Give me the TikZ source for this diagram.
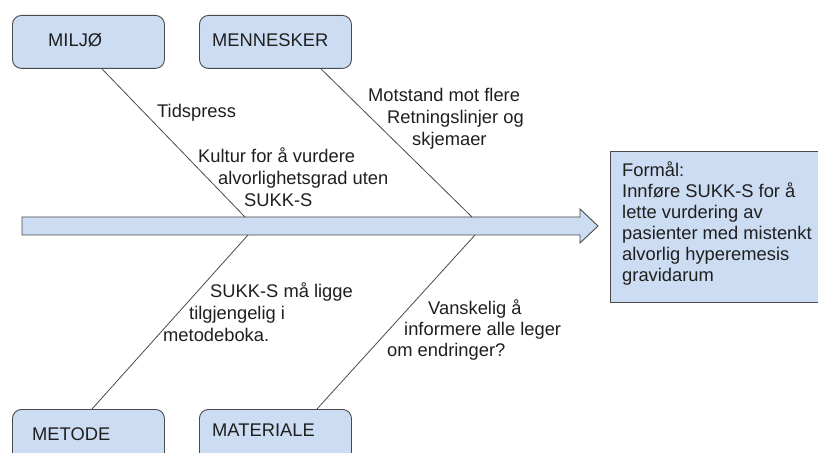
\documentclass[tikz,border=0pt]{standalone}
\usepackage{fontspec}
\setmainfont{Liberation Sans}
\usetikzlibrary{calc}
\definecolor{boxblue}{HTML}{CCDCF2}
\definecolor{edgegray}{HTML}{4A4A4A}
\begin{document}
\begin{tikzpicture}[x=1bp,y=-1bp,
  catbox/.style={draw=edgegray, line width=0.9bp, fill=boxblue, rounded corners=9bp, minimum width=152bp, minimum height=53bp, inner sep=0, anchor=north west},
  goalbox/.style={draw=edgegray, line width=0.9bp, fill=boxblue, minimum width=230bp, minimum height=151bp, inner sep=0, anchor=north west},
  txt/.style={anchor=base west, inner sep=0, font=\fontsize{18.4}{21.5}\selectfont, text=black!88},
  bone/.style={draw=edgegray, line width=0.8bp}]
\useasboundingbox (0,0) rectangle (818,453);
\clip (0,0) rectangle (818,453);
\fill[white] (0,0) rectangle (818,453);
% main arrow
\draw[draw=edgegray, line width=0.9bp, fill=boxblue] (22,217) -- (580,217) -- (580,209) -- (598,226) -- (580,243) -- (580,235) -- (22,235) -- cycle;
\coordinate (j1) at (245,217);
\coordinate (j2) at (472,217);
\coordinate (j3) at (248,235);
\coordinate (j4) at (475,235);
% category boxes
\node[catbox] (miljo) at (12,15) {};
\node[catbox] (menn) at (199,15) {};
\node[catbox, minimum height=70bp] (metode) at (12,409) {};
\node[catbox, minimum height=70bp] (mat) at (199,409) {};
\node[goalbox] (goal) at (610,151) {};
% bones
\draw[bone] ($(miljo.south west)+(90,0)$) -- (j1);
\draw[bone] ($(menn.south west)+(122,0)$) -- (j2);
\draw[bone] ($(metode.north west)+(80,0)$) -- (j3);
\draw[bone] ($(mat.north west)+(118,0)$) -- (j4);
% box labels
\node[txt] (miljot) at (48,47) {MILJØ};
\node[txt] (mennt) at (212,47) {MENNESKER};
\node[txt] (metodet) at (32,440) {METODE};
\node[txt] (matt) at (212,436) {MATERIALE};
% causes
\node[txt] (c1) at (157,118) {Tidspress};
\node[txt] (c2a) at (198,163) {Kultur for å vurdere};
\node[txt] (c2b) at (218,185) {alvorlighetsgrad uten};
\node[txt] (c2c) at (244,207) {SUKK-S};
\node[txt] (c3a) at (368,102) {Motstand mot flere};
\node[txt] (c3b) at (387,124) {Retningslinjer og};
\node[txt] (c3c) at (412,146) {skjemaer};
\node[txt] (c4a) at (210,298) {SUKK-S må ligge};
\node[txt] (c4b) at (189,320) {tilgjengelig i};
\node[txt] (c4c) at (163,342) {metodeboka.};
\node[txt] (c5a) at (428,315) {Vanskelig å};
\node[txt] (c5b) at (404,336) {informere alle leger};
\node[txt] (c5c) at (387,357) {om endringer?};
% goal text
\node[txt] (g1) at (622,177) {Formål:};
\node[txt] (g2) at (622,198) {Innføre SUKK-S for å};
\node[txt] (g3) at (622,219) {lette vurdering av};
\node[txt] (g4) at (622,240) {pasienter med mistenkt};
\node[txt] (g5) at (622,261) {alvorlig hyperemesis};
\node[txt] (g6) at (622,282) {gravidarum};
\end{tikzpicture}
\end{document}
